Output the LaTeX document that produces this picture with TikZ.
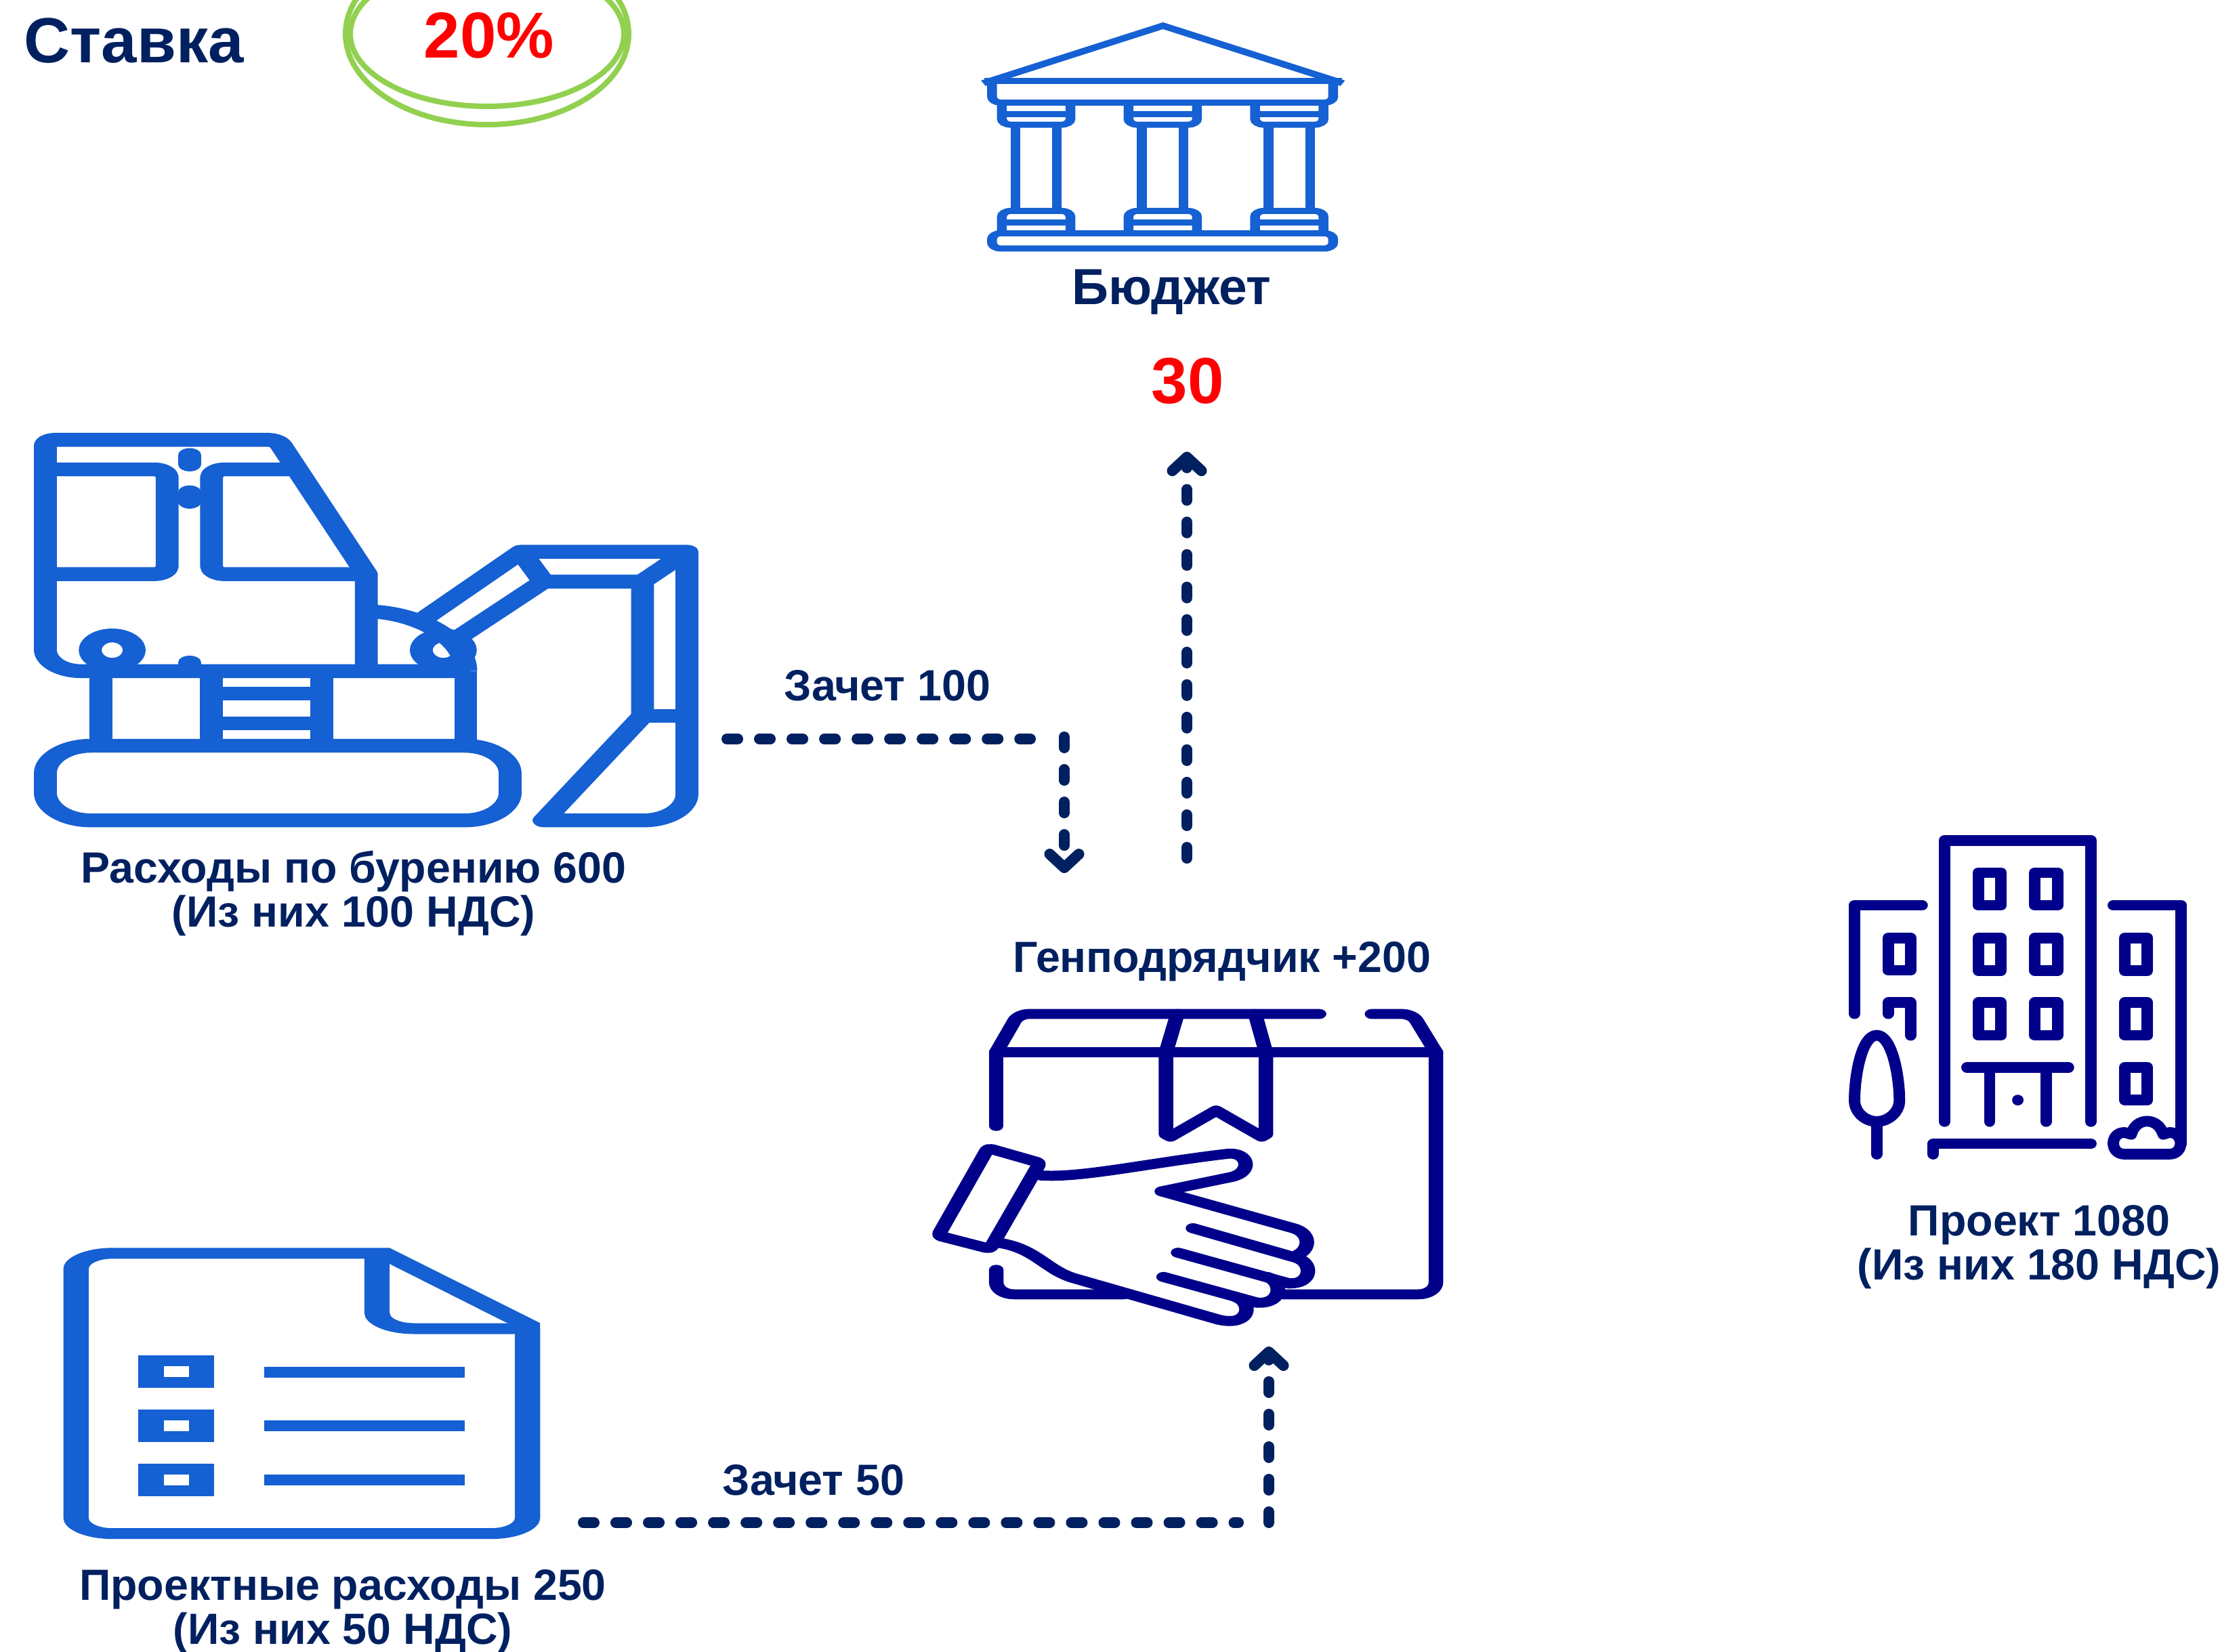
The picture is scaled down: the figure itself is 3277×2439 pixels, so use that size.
\documentclass[tikz,border=0pt]{standalone}
\usepackage{fontspec}
\setmainfont{Liberation Sans}
\usetikzlibrary{positioning,arrows.meta}
\definecolor{ink}{HTML}{002060}
\definecolor{iconblue}{HTML}{1560D2}
\definecolor{icondark}{HTML}{00008B}
\definecolor{ringgreen}{HTML}{92D050}
\tikzset{%
  arrow/.style = {
    -{Straight Barb[round, length=0.2cm, width=0.43cm, line width=0.16cm]},
    line width = 0.16cm,
    line cap = round,
    dash pattern = on 0.16cm off 0.32cm,
    draw = #1,
  },
  run/.style = {
    line width = 0.16cm,
    line cap = round,
    dash pattern = on 0.16cm off 0.32cm,
    draw = #1,
  },
  txt/.style = {
    font = \fontsize{#1}{18.5}\selectfont\bfseries,
    text = ink,
    align = center,
    inner sep = 0pt,
  },
  txt/.default = {18.35},
  icon/.style n args = {4}{
    transform canvas = {shift={(#1*0.01cm,#2*-0.01cm)}, xscale=#3, yscale=#4},
  },
  ring/.style = {
    draw = ringgreen,
    line width = 0.08cm,
  },
}
\begin{document}
\begin{tikzpicture}[x=0.01cm, y=-0.01cm]
\useasboundingbox (0,0) rectangle (3277,2439);

% rate
\draw[ring] (719,50) ellipse (202 and 107);
\draw[ring] (719,50) ellipse (209 and 134);
\node(rate)    [txt=26.8, anchor=base west] at (35,93)   {Ставка};
\node(percent) [txt=27.3, anchor=base west, text=red] at (625,85) {20\%};

% budget
\begin{scope}[icon={1420}{0}{0.537}{0.333}, x=0.007125cm, draw=iconblue, line width=0.27cm]
\draw (82,369) -- (775,114) -- (1468,369);
\draw (85,358) -- (1465,358);
\draw[rounded corners=0.25cm] (116,358) -- (116,455) -- (1431,455) -- (1431,358);
\draw[rounded corners=0.25cm] (116,1102) -- (116,1034) -- (1431,1034) -- (1431,1102) -- cycle;
\foreach \cx in {0,488,976} {
  \draw[rounded corners=0.25cm] (154+\cx,455) -- (154+\cx,553) -- (418+\cx,553) -- (418+\cx,455);
  \draw (154+\cx,505) -- (418+\cx,505);
  \draw (206+\cx,553) -- (206+\cx,935);
  \draw (366+\cx,553) -- (366+\cx,935);
  \draw[rounded corners=0.25cm] (154+\cx,1034) -- (154+\cx,935) -- (418+\cx,935) -- (418+\cx,1034);
  \draw (154+\cx,985) -- (418+\cx,985);
}
\end{scope}
\node(budget) [txt=21.3, anchor=base west] at (1582,449) {Бюджет};
\node(tax)    [txt=27.3, anchor=base west, text=red] at (1699,595) {30};

% drilling
\begin{scope}[icon={0}{600}{0.676}{0.408}, draw=iconblue, line width=0.5cm, line join=round]
\draw (800,958) -- (800,607) [rounded corners=0.2cm] -- (606,121) -- (99,121) [rounded corners=0.78cm] -- (99,958) -- (300,958) [sharp corners] -- (1017,958);
\draw[rounded corners=0.28cm] (99,228) -- (365,228) -- (365,607) -- (99,607);
\draw[rounded corners=0.28cm] (640,228) -- (462,228) -- (462,607) -- (800,607);
\draw[line cap=round] (414,176) -- (414,210);
\draw[line cap=round] (414,311) -- (414,345);
\draw[line cap=round] (414,927) -- (414,958);
\draw (245,882) ellipse (48 and 53);
\draw (968,882) ellipse (48 and 53);
\draw (800,742) .. controls (900,742) and (1017,830) .. (1017,958);
\draw (220,958) -- (220,1228);
\draw (462,958) -- (462,1228);
\draw (703,958) -- (703,1228);
\draw (1017,958) -- (1017,1228);
\draw (462,1039) -- (703,1039);
\draw (462,1147) -- (703,1147);
\draw[rounded corners=1cm] (99,1228) rectangle (1114,1498);
\draw (925,769) -- (1138,526) -- (1500,526) [rounded corners=0.95cm] -- (1500,1498) [sharp corners] -- (1188,1498) -- (1403,1120) -- (1403,634);
\draw (1005,832) -- (1186,634) -- (1403,634) -- (1500,526);
\draw (1138,526) -- (1186,634);
\draw (1403,1120) -- (1500,1120);
\end{scope}
\node(drill) [txt, anchor=center] at (522,1319) {Расходы по бурению 600\\(Из них 100 НДС)};

% documents
\begin{scope}[icon={60}{1800}{0.777}{0.333}, x=0.0064cm, draw=iconblue, fill=iconblue, line width=0.48cm]
\draw[rounded corners=0.7cm] (1036,151) -- (105,151) -- (105,1394) -- (1446,1394) -- (1446,485);
\draw[rounded corners=0.7cm] (999,151) -- (999,485) -- (1446,485);
\fill (1036,127) -- (1483,460) -- (1483,500) -- (1385,460) -- (1036,198) -- cycle;
\foreach \rowy/\liney in {628/678,868/915,1108/1155} {
  \draw[fill=none] (328,\rowy) rectangle (478,\rowy+96);
  \draw (663,\liney) -- (1260,\liney);
}
\end{scope}
\node(docs) [txt, anchor=center] at (506,2379) {Проектные расходы 250\\(Из них 50 НДС)};

% contractor
\begin{scope}[icon={1340}{1450}{0.5102}{0.351}, draw=icondark, line width=0.42cm, line join=round, line cap=round]
\draw[rounded corners=0.3cm] (1190,134) -- (320,134) -- (256,295);
\draw (256,295) -- (256,605);
\draw[rounded corners=0.3cm] (1343,134) -- (1460,134) -- (1528,295);
\draw[rounded corners=0.5cm] (1528,295) -- (1528,1313) -- (1085,1313);
\draw (256,295) -- (1528,295);
\draw (780,134) -- (747,295);
\draw (1005,134) -- (1036,295);
\draw (747,295) -- (747,640) -- (760,650) -- (892,540) -- (1024,650) -- (1036,640) -- (1036,295);
\draw[rounded corners=0.5cm] (256,1210) -- (256,1313) -- (625,1313);
\draw[rounded corners=0.12cm] (232,698) -- (382,760) -- (238,1122) -- (88,1066) -- cycle;
\draw (385,813) .. controls (500,825) and (700,760) .. (925,722) .. controls (985,712) and (1000,800) .. (935,820) -- (735,880) -- (1115,1035) .. controls (1165,1055) and (1165,1120) .. (1130,1145);
\draw (825,1035) -- (1125,1160) .. controls (1180,1185) and (1165,1290) .. (1085,1262);
\draw (782,1138) -- (1105,1268);
\draw (1040,1240) .. controls (1090,1265) and (1080,1365) .. (1000,1346);
\draw (740,1240) -- (1010,1348);
\draw (950,1325) .. controls (1000,1350) and (990,1450) .. (900,1420) -- (480,1245) .. controls (400,1210) and (370,1120) .. (265,1097);
\end{scope}
\node(contractor) [txt, anchor=base west] at (1495,1435) {Генподрядчик +200};

% project
\begin{scope}[icon={2700}{1200}{0.368}{0.344}, draw=icondark, line width=0.46cm, line join=round, line cap=round]
\draw (463,1325) -- (463,118) -- (1050,118) -- (1050,1325);
\foreach \wx in {598,825} {
  \foreach \wy in {257,537,815} {
    \draw (\wx,\wy) rectangle (\wx+92,\wy+140);
  }
}
\draw (373,397) -- (102,397) -- (102,862);
\draw (237,537) rectangle (327,676);
\draw (237,862) -- (237,815) -- (327,815) -- (327,955);
\draw (1140,397) -- (1412,397) -- (1412,1420);
\foreach \wy in {537,815,1093} {
  \draw (1186,\wy) rectangle (1277,\wy+140);
}
\draw (553,1093) -- (960,1093);
\draw (644,1093) -- (644,1325);
\draw (870,1093) -- (870,1325);
\fill[icondark] (757,1233) ellipse (23 and 23);
\draw (418,1465) -- (418,1420) -- (1050,1420);
\draw (191,1465) -- (191,1325);
\draw (191,955) .. controls (130,955) and (102,1130) .. (102,1235) .. controls (102,1285) and (145,1325) .. (191,1325) .. controls (237,1325) and (282,1285) .. (282,1235) .. controls (282,1130) and (252,955) .. (191,955) -- cycle;
\draw (1185,1465) .. controls (1125,1465) and (1125,1372) .. (1185,1372) -- (1212,1380) .. controls (1230,1305) and (1320,1305) .. (1340,1380) -- (1365,1372) .. controls (1425,1372) and (1425,1465) .. (1365,1465) -- cycle;
\end{scope}
\node(project) [txt, anchor=center] at (3010,1841) {Проект 1080\\(Из них 180 НДС)};

% offsets
\coordinate(offsetAa) at (1073,1091);
\coordinate(offsetAb) at (1521,1091);
\coordinate(offsetAc) at (1571,1088);
\coordinate(offsetAd) at (1571,1289);
\coordinate(payfrom)  at (1752,1267);
\coordinate(payto)    at (1752,667);
\coordinate(offsetBa) at (861,2248);
\coordinate(offsetBb) at (1828,2248);
\coordinate(offsetBc) at (1873,2248);
\coordinate(offsetBd) at (1873,1988);

\draw[run=ink]   (offsetAa) -- (offsetAb);
\draw[arrow=ink] (offsetAc) -- (offsetAd);
\draw[arrow=ink] (payfrom)  -- (payto);
\draw[run=ink]   (offsetBa) -- (offsetBb);
\draw[arrow=ink] (offsetBc) -- (offsetBd);
\node(offsetA) [txt, anchor=base west] at (1157,1034) {Зачет 100};
\node(offsetB) [txt, anchor=base west] at (1066,2207) {Зачет 50};
\end{tikzpicture}
\end{document}
